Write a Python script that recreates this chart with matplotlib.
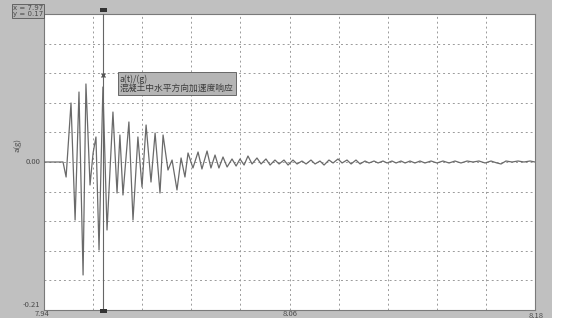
import numpy as np
import matplotlib.pyplot as plt
from matplotlib.patches import Rectangle

plt.rcParams['font.family'] = ['Noto Sans CJK SC', 'DejaVu Sans']

# время, с
t = [7.9400, 7.9493, 7.9508, 7.9532, 7.9552, 7.9571, 7.9591, 7.9605, 7.9625,
     7.9640, 7.9654, 7.9669, 7.9688, 7.9708, 7.9737, 7.9757, 7.9771, 7.9786,
     7.9815, 7.9835, 7.9859, 7.9879, 7.9899, 7.9923, 7.9943, 7.9967, 7.9982,
     8.0006, 8.0026, 8.0050, 8.0070, 8.0089, 8.0104,
     8.0128, 8.0153, 8.0172, 8.0197, 8.0216, 8.0236, 8.0255, 8.0275, 8.0295,
     8.0319, 8.0339, 8.0358,
     8.0378, 8.0397, 8.0417, 8.0441, 8.0461, 8.0485, 8.0505, 8.0529, 8.0549,
     8.0573, 8.0593, 8.0617, 8.0637, 8.0661, 8.0681, 8.0705, 8.0725, 8.0749,
     8.0769, 8.0793, 8.0813, 8.0837, 8.0857, 8.0881, 8.0901, 8.0925, 8.0945,
     8.0969, 8.0989, 8.1013, 8.1033, 8.1057, 8.1077, 8.1101, 8.1121, 8.1145,
     8.1165, 8.1189, 8.1213, 8.1238, 8.1262, 8.1292, 8.1321, 8.1350, 8.1380,
     8.1409, 8.1438, 8.1468, 8.1497, 8.1526, 8.1556, 8.1585, 8.1614, 8.1634,
     8.1658, 8.1688, 8.1717, 8.1746, 8.1776, 8.1800]
# ускорение, g
acc = [0.0, 0.0, -0.0213, 0.0837, -0.0823, 0.0993, -0.1603, 0.1107, -0.0326,
       0.0128, 0.0355, -0.1249, 0.1064, -0.0965, 0.0709, -0.0440, 0.0383, -0.0468,
       0.0568, -0.0823, 0.0355, -0.0355, 0.0525, -0.0284, 0.0411, -0.0440, 0.0383,
       -0.0114, 0.0028, -0.0397, 0.0057, -0.0213, 0.0128,
       -0.0085, 0.0142, -0.0099, 0.0156, -0.0085, 0.0099, -0.0085, 0.0071, -0.0071,
       0.0043, -0.0057, 0.0043,
       -0.0043, 0.0085, -0.0028, 0.0057, -0.0028, 0.0043, -0.0043, 0.0028, -0.0028,
       0.0028, -0.0043, 0.0028, -0.0028, 0.0014, -0.0028, 0.0028, -0.0028, 0.0014,
       -0.0043, 0.0028, -0.0014, 0.0043, -0.0014, 0.0028, -0.0028, 0.0028, -0.0028,
       0.0014, -0.0014, 0.0014, -0.0014, 0.0014, -0.0014, 0.0014, -0.0014, 0.0014,
       -0.0014, 0.0014, -0.0014, 0.0014, -0.0014, 0.0014, -0.0014, 0.0014, -0.0014,
       0.0014, -0.0014, 0.0014, 0.0, 0.0014, -0.0014, 0.0014, -0.0014, -0.0028,
       0.0014, 0.0, 0.0014, 0.0, 0.0014, 0.0]

x_labels = ['7.94', '8.06', '8.18']
cursor_x = 7.9688
cursor_txt = 'x = 7.97\ny = 0.17'
box_txt = 'a(t)/(g)\n混凝土中水平方向加速度响应'

fig = plt.figure(figsize=(5.63, 3.24), dpi=100)
fig.patch.set_facecolor('white')
# серая рамка
fig.patches.append(Rectangle((0, 6 / 324), 552 / 563, 318 / 324, transform=fig.transFigure,
                             facecolor='#c0c0c0', edgecolor='none', zorder=-5))

ax = fig.add_axes([44 / 563, 1 - 310 / 324, 491 / 563, 296 / 324])
ax.set_facecolor('white')
ax.set_xlim(7.94, 8.18)
ax.set_ylim(-0.21, 0.21)
ax.set_xticks(np.linspace(7.94, 8.18, 11))
ax.set_yticks(np.linspace(-0.21, 0.21, 11))
ax.tick_params(length=0, labelbottom=False, labelleft=False)
ax.grid(color='#9a9a9a', linestyle=(0, (2, 3)), linewidth=0.7)
for s in ax.spines.values():
    s.set_color('#7a7a7a')
    s.set_linewidth(0.8)

ax.plot(t, acc, color='#6a6a6a', linewidth=0.9, zorder=3)

# курсор
ax.axvline(cursor_x, color='#666666', linewidth=0.8, zorder=4)
ax.plot([cursor_x], [0.124], marker='x', color='#555555', markersize=3, zorder=5)
fig.patches.append(Rectangle((100 / 563, 1 - 12 / 324), 7 / 563, 4 / 324, transform=fig.transFigure,
                             facecolor='#333333', edgecolor='none', zorder=5))
fig.patches.append(Rectangle((100 / 563, 1 - 313 / 324), 7 / 563, 4 / 324, transform=fig.transFigure,
                             facecolor='#333333', edgecolor='none', zorder=5))

# подписи
tc = '#4a4a4a'
fig.text(13 / 563, 1 - 11 / 324, cursor_txt, fontsize=5, color=tc, va='center', ha='left',
         family='DejaVu Sans', linespacing=1.1,
         bbox=dict(boxstyle='square,pad=0.15', facecolor='#b5b5b5', edgecolor='#555555', linewidth=0.6))
ax.text(7.9770, 0.111, box_txt, fontsize=6.3, color='#3a3a3a', va='center', ha='left',
        linespacing=1.0, zorder=6,
        bbox=dict(boxstyle='square,pad=0.25', facecolor='#b5b5b5', edgecolor='#555555', linewidth=0.6))

fig.text(40 / 563, 1 - 162 / 324, '0.00', fontsize=5.5, color=tc, ha='right', va='center')
fig.text(18 / 563, 1 - 145 / 324, 'a(g)', fontsize=5.5, color=tc, ha='center', va='center', rotation=90)
fig.text(40 / 563, 1 - 305 / 324, '-0.21', fontsize=5.5, color=tc, ha='right', va='center')
fig.text(42 / 563, 1 - 314 / 324, x_labels[0], fontsize=5.5, color=tc, ha='center', va='center')
fig.text(290 / 563, 1 - 314 / 324, x_labels[1], fontsize=5.5, color=tc, ha='center', va='center')
fig.text(536 / 563, 1 - 316 / 324, x_labels[2], fontsize=5.5, color=tc, ha='center', va='center')

fig.savefig('out.png', dpi=100)
